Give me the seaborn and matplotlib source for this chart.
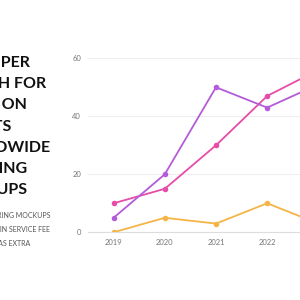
import matplotlib
matplotlib.use("Agg")
import matplotlib.pyplot as plt
import seaborn as sns
import pandas as pd

# data
years = [2019, 2020, 2021, 2022, 2023]
charging = [10, 15, 30, 47, 56]
included = [5, 20, 50, 43, 51]
extra = [0, 5, 3, 10, 3]

labels = ["NOT OFFERING MOCKUPS", "INCLUDED IN SERVICE FEE", "CHARGED AS EXTRA"]
colors = ["#e64ca8", "#b45bd9", "#f5b446"]
title = "USERS PER\nMONTH FOR\nSPENT ON\nCLIENTS\nWORLDWIDE\nCREATING\nMOCKUPS"

df = pd.DataFrame({
    "year": years * 3,
    "value": charging + included + extra,
    "series": [labels[0]] * 5 + [labels[1]] * 5 + [labels[2]] * 5,
})

sns.set_style("white")
plt.rcParams["font.family"] = ["Lato", "DejaVu Sans"]

fig = plt.figure(figsize=(3, 3), dpi=100)
ax = fig.add_axes([0.2933, 0.2257, 0.8533, 0.5993])

sns.lineplot(data=df, x="year", y="value", hue="series", palette=colors,
             marker="o", markersize=4, markeredgewidth=0, linewidth=1.3,
             ax=ax, legend=False)

ax.set_xlim(2018.5, 2023.5)
ax.set_ylim(0, 62)
ax.set_xticks(years)
ax.set_yticks([0, 20, 40, 60])
ax.grid(axis="y", color="#eeeeee", linewidth=0.8)
ax.set_axisbelow(True)
for s in ["top", "right", "left"]:
    ax.spines[s].set_visible(False)
ax.spines["bottom"].set_color("#dddddd")
ax.spines["bottom"].set_linewidth(0.8)
ax.tick_params(axis="both", length=0, labelsize=5.5, labelcolor="#777777", pad=5)
ax.set_xlabel("")
ax.set_ylabel("")

fig.text(-0.173, 0.812, title, ha="left", va="top", fontsize=11.5,
         fontweight="bold", color="#111111", linespacing=1.64)

handles = [plt.Line2D([], [], color=c, marker="o", markersize=3, linewidth=1.2)
           for c in colors]
fig.legend(handles, labels, loc="upper left", bbox_to_anchor=(-0.17, 0.292),
           frameon=False, fontsize=5.0, labelcolor="#555555",
           handlelength=1.2, labelspacing=0.95, borderpad=0, borderaxespad=0)

fig.savefig("out.png", dpi=100)
